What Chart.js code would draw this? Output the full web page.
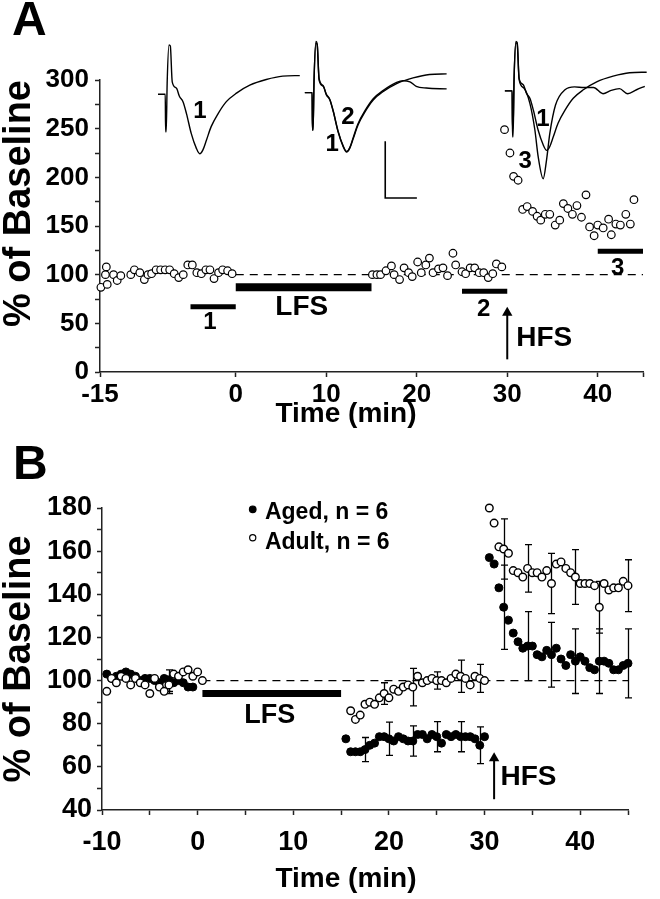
<!DOCTYPE html>
<html>
<head>
<meta charset="utf-8">
<script src="https://cdn.jsdelivr.net/npm/chart.js@4.4.1/dist/chart.umd.min.js"></script>
<style>
  html, body { margin: 0; padding: 0; background: #fff; }
  #wrap { position: relative; width: 660px; height: 899px; }
  canvas { position: absolute; left: 0; }
  #chartA { top: 0; }
  #chartB { top: 440px; }
</style>
</head>
<body>
<div id="wrap">
  <canvas id="chartA" width="660" height="440"></canvas>
  <canvas id="chartB" width="660" height="459"></canvas>
</div>
<script>
// ---------- Panel A: one slice, % of baseline ----------
const timeBaseA = [-14.9, -14.4, -14.3, -14.2, -13.5, -13.1, -12.7, -11.6, -11.2, -10.6, -10.1, -9.7, -9.3, -8.8, -8.3, -7.8,
  -7.3, -6.8, -6.3, -5.8, -5.3, -4.8, -4.3, -3.8, -3.3, -2.85, -2.4, -1.9, -1.45, -0.9, -0.4];
const pctBaseA = [87, 100, 108, 90, 100, 94, 99, 100, 105, 102, 95, 100, 101, 105, 105, 105,
  105, 101, 97, 100, 110, 110, 102, 101, 105, 105, 96, 102, 105, 104, 101];
const timeLfsA = [15.1, 15.6, 16.0, 16.6, 17.2, 17.5, 18.1, 18.6, 19.1, 19.5, 20.1, 20.5, 21.0, 21.4, 21.8,
  22.4, 22.9, 23.4, 24.0, 24.3, 25.0, 25.4, 25.9, 26.4, 26.9, 27.4, 27.9, 28.4, 28.8, 29.4];
const pctLfsA = [100, 100, 100, 104, 109, 100, 95, 107, 102, 98, 113, 102, 110, 117, 102,
  106, 107, 99, 122, 110, 103, 101, 107, 107, 102, 102, 97, 101, 111, 108];
const timeHfsA = [29.7, 30.3, 30.7, 31.2, 31.7, 32.2, 32.8, 33.3, 33.7, 34.2, 34.7, 35.3, 35.8, 36.2, 36.7,
  37.2, 37.7, 38.2, 38.7, 39.1, 39.6, 40.0, 40.6, 41.2, 41.5, 42.0, 42.5, 43.1, 43.6, 44.0];
const pctHfsA = [249, 225, 201, 197, 167, 170, 165, 160, 156, 162, 162, 151, 156, 173, 168,
  162, 171, 159, 182, 149, 140, 151, 148, 157, 141, 152, 151, 162, 152, 177];

const xTicksA = [-15, 0, 10, 20, 30, 40, 45];
const lfsA = [0, 15];
const epoch1 = [-5, 0];
const epoch2 = [25, 30];
const epoch3 = [40, 45];
const hfsA = 30;

// sample traces (ms, mV)
const trace1Ms = [0, 1.0, 1.15, 1.2, 1.3, 1.45, 1.75, 1.95, 2.25, 2.9, 3.4, 3.95, 4.5, 5.25, 6.05, 6.6, 7.1, 7.65,
  8.4, 9.5, 10.8, 12.4, 14.5, 17.1, 19.7, 22.4];
const trace1Mv = [0, 0, 0, -0.66, -0.66, 0.2, 0.87, 0.85, 0.22, 0.11, -0.04, -0.13, -0.34, -0.69, -0.95, -1.05, -0.98, -0.81,
  -0.57, -0.34, -0.13, 0.02, 0.16, 0.26, 0.32, 0.33];
const trace2Ms = [0, 1.0, 1.15, 1.2, 1.3, 1.45, 1.75, 1.95, 2.25, 2.9, 3.4, 3.95, 4.5, 5.25, 6.05, 6.6, 7.1, 7.65,
  8.4, 9.5, 10.8, 12.4, 14.5, 15.5, 16.6, 17.6, 19.2, 22.4];
const trace2Mv = [0, 0, 0, -0.66, -0.66, 0.2, 0.9, 0.85, 0.25, 0.12, -0.03, -0.12, -0.33, -0.68, -0.94, -1.04, -0.97, -0.79,
  -0.55, -0.32, -0.11, 0.04, 0.18, 0.21, 0.19, 0.11, 0.08, 0.065];
const trace3Ms = [0, 1.0, 1.15, 1.2, 1.3, 1.45, 1.75, 1.95, 2.25, 3.0, 3.95, 4.74, 5.26, 6.05, 6.58, 7.1, 8.0,
  9.5, 11, 12.5, 14, 15.5, 16.8, 18.1, 19.4, 20.8, 22.1];
const trace3Mv = [0, 0, 0, -0.81, -0.81, 0.2, 0.85, 0.82, 0.2, 0.05, -0.22, -0.69, -1.16, -1.55, -1.22, -0.75, -0.25,
  0.02, 0.07, 0.06, 0.06, -0.05, 0.01, 0.04, -0.05, 0.02, 0.08];
const scaleBarMs = 5;
const scaleBarMv = 1;

// ---------- Panel B: group means ----------
const agedTime = [-9.5, -9, -8.5, -8, -7.5, -7, -6.5, -6, -5.5, -5, -4.5, -4, -3.5, -3, -2.5, -2, -1.5, -1, -0.5,
  15.5, 16, 16.5, 17, 17.5, 18, 18.5, 19, 19.5, 20, 20.5, 21, 21.5, 22, 22.5, 23, 23.5, 24, 24.5, 25,
  25.5, 26, 26.5, 27, 27.5, 28, 28.5, 29, 29.5, 30,
  30.5, 31, 31.5, 32, 32.5, 33, 33.5, 34, 34.5, 35, 35.5, 36, 36.5, 37, 37.5, 38, 38.5, 39, 39.5, 40,
  40.5, 41, 41.5, 42, 42.5, 43, 43.5, 44, 44.5, 45];
const agedPct = [103, 101, 102, 103, 104, 103, 102, 100, 101, 101, 100, 99, 101, 100, 99, 100, 99, 97, 97,
  73, 67, 67, 67, 68, 70, 71, 74, 74, 73, 72, 74, 73, 72, 72, 75, 75, 73, 75, 74,
  71, 75, 74, 75, 74, 74, 74, 73, 70, 74,
  157, 154, 143, 134, 128, 122, 118, 115, 116, 116, 112, 111, 114, 112, 115, 110, 107, 112, 109, 111,
  109, 106, 105, 109, 109, 108, 105, 105, 107, 108];
const adultTime = [-9.5, -9, -8.5, -8, -7.5, -7, -6.5, -6, -5.5, -5, -4.5, -4, -3.5, -3, -2.5, -2, -1.5, -1, -0.5, 0, 0.5,
  16, 16.5, 17, 17.5, 18, 18.5, 19, 19.5, 20, 20.5, 21, 21.5, 22, 22.5, 23, 23.5, 24, 24.5, 25,
  25.5, 26, 26.5, 27, 27.5, 28, 28.5, 29, 29.5, 30,
  30.5, 31, 31.5, 32, 32.5, 33, 33.5, 34, 34.5, 35, 35.5, 36, 36.5, 37, 37.5, 38, 38.5, 39, 39.5, 40,
  40.5, 41, 41.5, 42, 42.5, 43, 43.5, 44, 44.5, 45];
const adultPct = [95, 101, 99, 102, 101, 98, 101, 99, 98, 94, 101, 97, 95, 98, 103, 102, 104, 105, 102, 104, 100,
  86, 82, 84, 89, 90, 89, 92, 94, 92, 96, 95, 97, 98, 97, 102, 99, 100, 101, 100,
  100, 99, 101, 103, 102, 101, 98, 102, 101, 100,
  180, 173, 162, 161, 159, 151, 150, 148, 152, 150, 150, 148, 151, 145, 154, 155, 152, 150, 148, 145,
  145, 145, 144, 134, 145, 142, 143, 143, 146, 144];
const agedErrTime = [-3, 17.5, 20, 22.5, 25, 27.5, 29.5, 32, 34.5, 37, 39.5, 42, 45];
const agedSem = [5, 5.6, 7.7, 7, 7, 7, 8.5, 19.5, 16, 15, 15, 15, 16];
const adultErrTime = [-3, 19.5, 22.5, 25, 27.5, 29.5, 32, 34.5, 37, 39.5, 42, 45];
const adultSem = [4, 5, 8.7, 4, 7.5, 6.5, 14, 11, 14, 12.7, 12, 12];
const lfsB = [0.5, 15];
const hfsB = 31;

const FONT = "'Liberation Sans', Arial, Helvetica, sans-serif";
Chart.defaults.font.family = FONT;
Chart.defaults.font.weight = 'bold';
Chart.defaults.color = '#000';

function pts(xs, ys) {
  return xs.map((x, i) => ({ x: x, y: ys[i] }));
}

// place a trace inside the inset area (offset in ms / mV)
function tracePts(ms, mv, off) {
  return ms.map((t, i) => ({ x: t + off[0], y: mv[i] + off[1] }));
}

// error bars, labels and the little legend
const notesPlugin = {
  id: 'notes',
  beforeDatasetsDraw(chart, args, opts) {
    const ctx = chart.ctx;
    (opts.errorBars || []).forEach(eb => {
      const data = chart.data.datasets[eb.dataset].data;
      const xs = chart.scales.x, ys = chart.scales.y;
      ctx.save();
      ctx.strokeStyle = '#000';
      ctx.lineWidth = 1.3;
      eb.times.forEach((t, i) => {
        const p = data.find(d => d.x === t);
        if (!p) return;
        const px = Math.round(xs.getPixelForValue(t)) + 0.5;
        const top = ys.getPixelForValue(p.y + eb.sem[i]);
        const bot = ys.getPixelForValue(p.y - eb.sem[i]);
        ctx.beginPath();
        ctx.moveTo(px, top); ctx.lineTo(px, bot);
        ctx.moveTo(px - 3.5, top); ctx.lineTo(px + 3.5, top);
        ctx.moveTo(px - 3.5, bot); ctx.lineTo(px + 3.5, bot);
        ctx.stroke();
      });
      ctx.restore();
    });
  },
  afterDatasetsDraw(chart, args, opts) {
    const ctx = chart.ctx;
    ctx.save();
    ctx.textBaseline = 'middle';
    (opts.texts || []).forEach(n => {
      let px = n.px, py = n.py;
      if (px === undefined) {
        px = chart.scales[n.xAxis || 'x'].getPixelForValue(n.x);
        py = chart.scales[n.yAxis || 'y'].getPixelForValue(n.y);
      }
      ctx.fillStyle = '#000';
      ctx.font = 'bold ' + n.size + 'px ' + FONT;
      ctx.textAlign = n.align || 'center';
      ctx.fillText(n.text, px, py);
    });
    (opts.legend || []).forEach(l => {
      const ds = chart.data.datasets[l.dataset];
      const xs = chart.scales.x, ys = chart.scales.y;
      ctx.beginPath();
      ctx.arc(xs.getPixelForValue(l.x), ys.getPixelForValue(l.y), l.r, 0, Math.PI * 2);
      ctx.fillStyle = ds.pointBackgroundColor;
      ctx.fill();
      ctx.lineWidth = 1.2;
      ctx.strokeStyle = ds.pointBorderColor;
      ctx.stroke();
      ctx.fillStyle = '#000';
      ctx.font = 'bold 23px ' + FONT;
      ctx.textAlign = 'left';
      ctx.fillText(ds.label, xs.getPixelForValue(l.textX), ys.getPixelForValue(l.textY));
    });
    ctx.restore();
  }
};

function axisStyle() {
  return {
    grid: { drawOnChartArea: false, tickLength: 5, tickColor: '#222', tickWidth: 1.5 },
    border: { color: '#222', width: 1.5 }
  };
}

function barSet(range, y, width) {
  return {
    data: [{ x: range[0], y: y }, { x: range[1], y: y }],
    borderColor: '#000', borderWidth: width, borderCapStyle: 'butt',
    pointRadius: 0, order: 3
  };
}

function arrowSet(x, y0, y1) {
  return {
    data: [{ x: x, y: y0 }, { x: x, y: y1 }],
    borderColor: '#000', borderWidth: 2,
    pointStyle: 'triangle', pointRadius: [0, 6],
    pointBackgroundColor: '#000', pointBorderColor: '#000', pointBorderWidth: 0,
    order: 3
  };
}

function traceSet(ms, mv, off) {
  return {
    data: tracePts(ms, mv, off), xAxisID: 'tx', yAxisID: 'ty',
    borderColor: '#000', borderWidth: 1.4, pointRadius: 0,
    cubicInterpolationMode: 'monotone', clip: false, order: 4
  };
}

// inset placement of the three trace groups
const set1 = [0, 0], set2 = [23.2, 0.03], set3 = [54.8, 0.06];
const barCorner = [35.9, -1.83];

const chartA = new Chart(document.getElementById('chartA'), {
  type: 'line',
  data: {
    datasets: [
      {
        data: pts(timeBaseA, pctBaseA).concat(pts(timeLfsA, pctLfsA), pts(timeHfsA, pctHfsA)),
        showLine: false, pointRadius: 3.8, pointBorderWidth: 1.2, clip: false,
        pointBackgroundColor: '#fff', pointBorderColor: '#000', order: 0
      },
      {
        data: [{ x: 0, y: 100 }, { x: 45, y: 100 }],
        borderColor: '#000', borderWidth: 1.2, borderDash: [8, 6], pointRadius: 0, order: 5
      },
      barSet(lfsA, 87, 8),
      barSet(epoch1, 67, 5),
      barSet(epoch2, 83, 5),
      barSet(epoch3, 124, 5),
      arrowSet(hfsA, 13, 61),
      traceSet(trace1Ms, trace1Mv, set1),
      traceSet(trace1Ms, trace1Mv, set2),
      traceSet(trace2Ms, trace2Mv, set2),
      traceSet(trace1Ms, trace1Mv, set3),
      traceSet(trace3Ms, trace3Mv, set3),
      {
        data: [
          { x: barCorner[0], y: barCorner[1] + scaleBarMv },
          { x: barCorner[0], y: barCorner[1] },
          { x: barCorner[0] + scaleBarMs, y: barCorner[1] }
        ],
        xAxisID: 'tx', yAxisID: 'ty', borderColor: '#000', borderWidth: 1.6,
        pointRadius: 0, clip: false, order: 4
      }
    ]
  },
  options: {
    responsive: false, animation: false, devicePixelRatio: 1, events: [],
    layout: { padding: { top: 80, right: 17, left: 0, bottom: 0 } },
    plugins: {
      legend: { display: false }, tooltip: { enabled: false },
      notes: {
        texts: [
          { text: '1', x: -2.85, y: 50.6, size: 24 },
          { text: 'LFS', x: 7.3, y: 66, size: 28 },
          { text: '2', x: 27.4, y: 64.5, size: 24 },
          { text: 'HFS', x: 31.0, y: 35, size: 28, align: 'left' },
          { text: '3', x: 42.2, y: 106.7, size: 24 },
          { text: '1', x: 6.64, y: -0.31, xAxis: 'tx', yAxis: 'ty', size: 24 },
          { text: '2', x: 30.0, y: -0.40, xAxis: 'tx', yAxis: 'ty', size: 24 },
          { text: '1', x: 27.5, y: -0.89, xAxis: 'tx', yAxis: 'ty', size: 24 },
          { text: '1', x: 60.8, y: -0.45, xAxis: 'tx', yAxis: 'ty', size: 24 },
          { text: '3', x: 58.0, y: -1.19, xAxis: 'tx', yAxis: 'ty', size: 24 },
          { text: 'A', px: 12, py: 22, size: 48, align: 'left' },
          { text: 'Time (min)', px: 346, py: 414, size: 28 }
        ]
      }
    },
    scales: {
      x: Object.assign(axisStyle(), {
        type: 'linear', min: -15, max: 45,
        afterBuildTicks: s => { s.ticks = xTicksA.map(v => ({ value: v })); },
        ticks: { autoSkip: false, maxRotation: 0, padding: 2, font: { size: 26 }, callback: v => (v === 45 ? '' : v) },
        afterFit: s => { s.height = 68; }
      }),
      y: Object.assign(axisStyle(), {
        type: 'linear', min: 0, max: 300,
        ticks: { stepSize: 25, autoSkip: false, padding: 6, font: { size: 26 }, callback: v => (v % 50 === 0 ? v : '') },
        title: { display: true, text: '% of Baseline', align: 'end', font: { size: 38, lineHeight: 1 }, padding: { top: 1, bottom: 0 } },
        afterFit: s => { s.width = 100; }
      }),
      tx: { type: 'linear', display: false, min: -9.16, max: 76.62 },
      ty: { type: 'linear', display: false, min: -4.898, max: 0.252 }
    }
  },
  plugins: [notesPlugin]
});

const chartB = new Chart(document.getElementById('chartB'), {
  type: 'line',
  data: {
    datasets: [
      {
        label: 'Adult, n = 6',
        data: pts(adultTime, adultPct),
        showLine: false, pointRadius: 3.8, pointBorderWidth: 1.4, clip: false,
        pointBackgroundColor: '#fff', pointBorderColor: '#000', order: 0
      },
      {
        label: 'Aged, n = 6',
        data: pts(agedTime, agedPct),
        showLine: false, pointRadius: 4, pointBorderWidth: 1, clip: false,
        pointBackgroundColor: '#000', pointBorderColor: '#000', order: 1
      },
      {
        data: [{ x: 0.5, y: 100 }, { x: 45, y: 100 }],
        borderColor: '#000', borderWidth: 1.2, borderDash: [8, 6], pointRadius: 0, order: 5
      },
      barSet(lfsB, 94, 7),
      arrowSet(hfsB, 45, 64)
    ]
  },
  options: {
    responsive: false, animation: false, devicePixelRatio: 1, events: [],
    layout: { padding: { top: 68, right: 32, left: 0, bottom: 0 } },
    plugins: {
      legend: { display: false }, tooltip: { enabled: false },
      notes: {
        errorBars: [
          { dataset: 1, times: agedErrTime, sem: agedSem },
          { dataset: 0, times: adultErrTime, sem: adultSem }
        ],
        legend: [
          { dataset: 1, x: 5.76, y: 179.4, r: 3.3, textX: 7.04, textY: 177.7 },
          { dataset: 0, x: 5.76, y: 166.2, r: 3.1, textX: 7.04, textY: 163.8 }
        ],
        texts: [
          { text: 'LFS', x: 7.55, y: 84, size: 27 },
          { text: 'HFS', x: 31.66, y: 55.2, size: 28, align: 'left' },
          { text: 'B', px: 13, py: 26, size: 48, align: 'left' },
          { text: 'Time (min)', px: 346, py: 439, size: 28 }
        ]
      }
    },
    scales: {
      x: Object.assign(axisStyle(), {
        type: 'linear', min: -10, max: 45,
        ticks: { stepSize: 5, autoSkip: false, maxRotation: 0, padding: 11, font: { size: 27 }, callback: v => (v % 10 === 0 ? v : '') },
        afterFit: s => { s.height = 89; }
      }),
      y: Object.assign(axisStyle(), {
        type: 'linear', min: 40, max: 180,
        ticks: { stepSize: 10, autoSkip: false, padding: 5, font: { size: 27 }, callback: v => (v % 20 === 0 ? v : '') },
        title: { display: true, text: '% of Baseline', align: 'center', font: { size: 38, lineHeight: 1 }, padding: { top: 1, bottom: 0 } },
        afterFit: s => { s.width = 102; }
      })
    }
  },
  plugins: [notesPlugin]
});
</script>
</body>
</html>
